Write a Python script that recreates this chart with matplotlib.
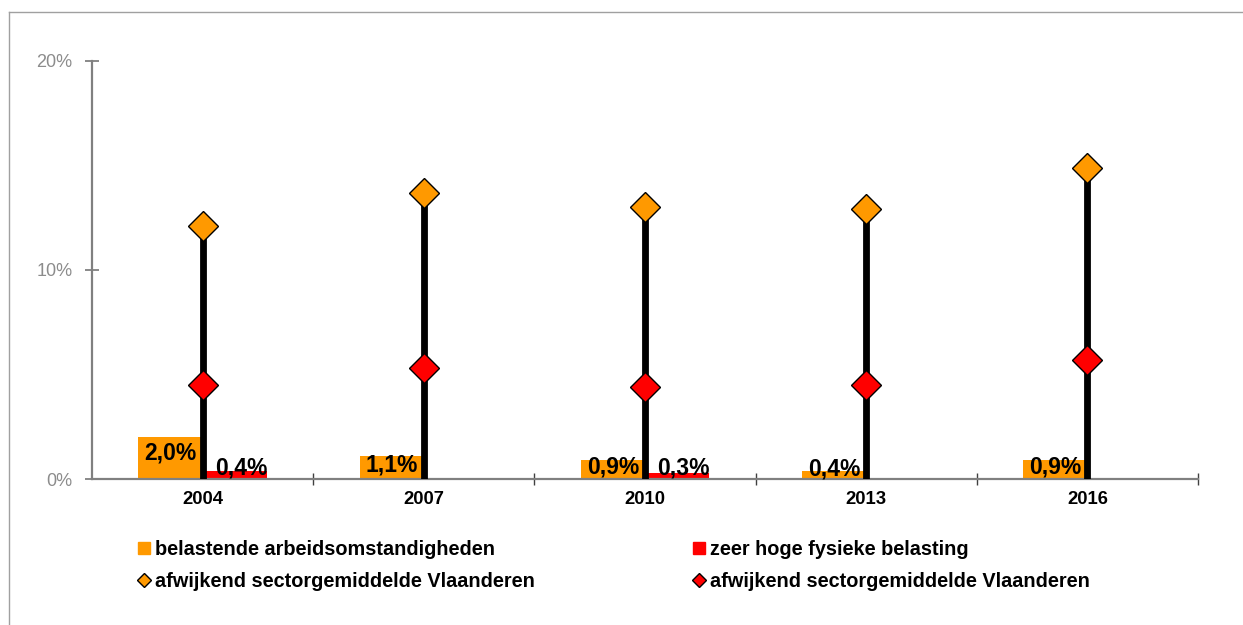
import matplotlib
matplotlib.use("Agg")
import matplotlib.pyplot as plt
from matplotlib.lines import Line2D

plt.rcParams['font.family'] = ['Liberation Sans', 'DejaVu Sans']

years = ['2004', '2007', '2010', '2013', '2016']
belastende = [2.0, 1.1, 0.9, 0.4, 0.9]
zeer_hoog = [0.4, 0.0, 0.3, 0.0, 0.0]
sector_oranje = [12.1, 13.7, 13.0, 12.9, 14.9]
sector_rood = [4.5, 5.3, 4.4, 4.5, 5.7]
yticks = [0, 10, 20]
ytick_labels = ['0%', '10%', '20%']
legend_labels = ['belastende arbeidsomstandigheden', 'zeer hoge fysieke belasting',
                 'afwijkend sectorgemiddelde Vlaanderen', 'afwijkend sectorgemiddelde Vlaanderen']

ORANGE = '#FF9900'
RED = '#FF0000'
GRAY = '#808080'

fig = plt.figure(figsize=(12.43, 6.25), dpi=100)
ax = fig.add_axes([92/1243, 1-479/625, (1198-92)/1243, (479-61)/625])

x = list(range(len(years)))
w = 0.29
xo = [i - w/2 for i in x]
xr = [i + w/2 for i in x]
ax.bar(xo, belastende, width=w, color=ORANGE, zorder=2)
ax.bar(xr, zeer_hoog, width=w, color=RED, zorder=2)
ax.vlines(x, 0, sector_oranje, color='black', lw=4.9, zorder=3)
ax.plot(x, sector_oranje, linestyle='none', marker='D', markersize=15.5,
        markerfacecolor=ORANGE, markeredgecolor='black', markeredgewidth=1, zorder=4)
ax.plot(x, sector_rood, linestyle='none', marker='D', markersize=15.5,
        markerfacecolor=RED, markeredgecolor='black', markeredgewidth=1, zorder=4)

def fmt(v):
    return f"{v:.1f}".replace('.', ',') + '%'

for xi, v in zip(xo, belastende):
    if v > 0:
        ax.text(xi, max(v * 0.62, 0.5), fmt(v), ha='center', va='center',
                fontsize=16.5, fontweight='bold', color='black', zorder=5)
for xi, v in zip(xr, zeer_hoog):
    if v > 0:
        ax.text(xi + 0.03, 0.55, fmt(v), ha='center', va='center',
                fontsize=16.5, fontweight='bold', color='black', zorder=5)

ax.set_xlim(-0.5, 4.5)
ax.set_ylim(0, 20)
ax.set_yticks(yticks)
ax.set_yticklabels(ytick_labels)
ax.tick_params(axis='y', direction='inout', length=10, width=1.3, color=GRAY,
               labelcolor='#8c8c8c', labelsize=13, pad=9)
ax.set_xticks([i + 0.5 for i in x])
ax.set_xticklabels([])
ax.set_xticks(x, minor=True)
ax.set_xticklabels(years, minor=True, fontsize=13.3, fontweight='bold')
ax.tick_params(axis='x', which='major', direction='inout', length=9, width=1, color='#404040')
ax.tick_params(axis='x', which='minor', length=0, pad=9)
for s in ['top', 'right']:
    ax.spines[s].set_visible(False)
for s in ['left', 'bottom']:
    ax.spines[s].set_color(GRAY)
    ax.spines[s].set_linewidth(1.6)

handles = [
    Line2D([], [], linestyle='none', marker='s', markersize=8.5, markerfacecolor=ORANGE, markeredgecolor=ORANGE),
    Line2D([], [], linestyle='none', marker='D', markersize=7, markerfacecolor=ORANGE, markeredgecolor='black', markeredgewidth=1),
    Line2D([], [], linestyle='none', marker='s', markersize=8.5, markerfacecolor=RED, markeredgecolor=RED),
    Line2D([], [], linestyle='none', marker='D', markersize=7, markerfacecolor=RED, markeredgecolor='black', markeredgewidth=1),
]
labels = [legend_labels[0], legend_labels[2], legend_labels[1], legend_labels[3]]
fig.legend(handles, labels, ncol=2, loc='upper left', bbox_to_anchor=(137/1243, 1-540/625),
           frameon=False, prop={'size': 14.3, 'weight': 'bold'}, handlelength=0.7,
           handletextpad=0.2, columnspacing=7.9, labelspacing=0.66, borderaxespad=0, borderpad=0)

fig.add_artist(Line2D([9/1243, 9/1243], [1-12/625, 0], transform=fig.transFigure, color='#a0a0a0', lw=1))
fig.add_artist(Line2D([9/1243, 1], [1-12/625, 1-12/625], transform=fig.transFigure, color='#a0a0a0', lw=1))

fig.savefig('out.png', dpi=100)
